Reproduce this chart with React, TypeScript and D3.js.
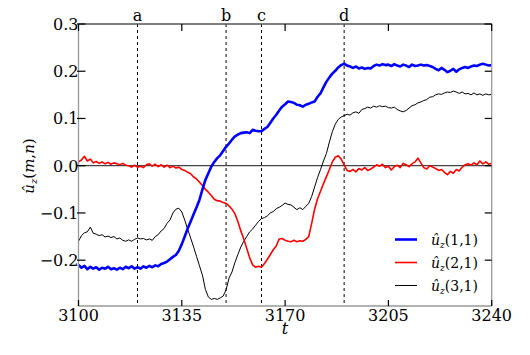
import React from "react";
import * as d3 from "d3";

const T_START = 3100;
const u11: number[] = [
  -0.210, -0.216, -0.212, -0.219, -0.214, -0.218, -0.215, -0.220, -0.216, -0.218,
  -0.214, -0.219, -0.217, -0.220, -0.216, -0.219, -0.214, -0.217, -0.213, -0.218,
  -0.215, -0.218, -0.213, -0.216, -0.212, -0.215, -0.211, -0.213, -0.208, -0.206,
  -0.203, -0.198, -0.193, -0.189, -0.180, -0.166, -0.150, -0.133, -0.118, -0.103,
  -0.088, -0.072, -0.050, -0.030, -0.016, -0.002, 0.008, 0.016, 0.022, 0.031,
  0.040, 0.047, 0.055, 0.062, 0.066, 0.069, 0.070, 0.071, 0.069, 0.076,
  0.074, 0.073, 0.073, 0.078, 0.082, 0.091, 0.100, 0.108, 0.117, 0.125,
  0.130, 0.136, 0.135, 0.133, 0.129, 0.128, 0.125, 0.129, 0.131, 0.134,
  0.136, 0.146, 0.153, 0.166, 0.178, 0.187, 0.195, 0.201, 0.208, 0.213,
  0.216, 0.212, 0.210, 0.207, 0.210, 0.206, 0.208, 0.205, 0.207, 0.206,
  0.211, 0.214, 0.212, 0.215, 0.213, 0.214, 0.211, 0.215, 0.212, 0.210,
  0.214, 0.212, 0.209, 0.214, 0.211, 0.212, 0.214, 0.212, 0.213, 0.211,
  0.209, 0.205, 0.202, 0.207, 0.203, 0.198, 0.201, 0.205, 0.199, 0.204,
  0.207, 0.209, 0.207, 0.210, 0.212, 0.211, 0.214, 0.216, 0.214, 0.212,
  0.213,
];
const u21: number[] = [
  0.008, 0.012, 0.020, 0.010, 0.014, 0.006, 0.009, 0.005, 0.008, 0.004,
  0.007, 0.003, 0.006, 0.004, 0.002, 0.005, 0.001, 0.000, -0.003, 0.001,
  -0.003, -0.001, -0.004, 0.002, 0.004, -0.001, 0.003, -0.002, 0.002, -0.003,
  0.001, -0.004, -0.001, -0.005, -0.003, -0.008, -0.010, -0.014, -0.017, -0.024,
  -0.028, -0.035, -0.042, -0.050, -0.056, -0.063, -0.071, -0.074, -0.075, -0.078,
  -0.080, -0.085, -0.092, -0.102, -0.118, -0.138, -0.155, -0.175, -0.195, -0.210,
  -0.215, -0.213, -0.215, -0.207, -0.198, -0.188, -0.178, -0.170, -0.155, -0.154,
  -0.158, -0.160, -0.161, -0.158, -0.161, -0.159, -0.160, -0.156, -0.150, -0.122,
  -0.092, -0.070, -0.054, -0.038, -0.023, -0.008, 0.008, 0.018, 0.021, 0.014,
  0.002, -0.010, -0.012, -0.008, -0.013, -0.006, -0.009, -0.004, -0.010, -0.007,
  -0.003, 0.002, -0.001, 0.003, -0.004, -0.001, -0.009, -0.002, 0.001, -0.004,
  0.005, 0.002, -0.002, 0.004, 0.008, 0.016, 0.006, -0.004, -0.007, 0.000,
  -0.003, -0.006, -0.010, -0.008, -0.014, -0.019, -0.012, -0.016, -0.008, -0.011,
  -0.003, 0.002, 0.004, 0.001, 0.006, 0.002, 0.010, 0.004, 0.008, 0.003,
  0.005,
];
const u31: number[] = [
  -0.160, -0.148, -0.142, -0.140, -0.130, -0.143, -0.145, -0.148, -0.146, -0.151,
  -0.149, -0.152, -0.150, -0.155, -0.153, -0.158, -0.160, -0.157, -0.160, -0.156,
  -0.153, -0.155, -0.154, -0.157, -0.155, -0.158, -0.150, -0.146, -0.138, -0.133,
  -0.122, -0.115, -0.100, -0.092, -0.090, -0.098, -0.115, -0.135, -0.153, -0.172,
  -0.192, -0.212, -0.232, -0.262, -0.278, -0.283, -0.281, -0.283, -0.280, -0.276,
  -0.263, -0.238, -0.225, -0.205, -0.188, -0.172, -0.160, -0.150, -0.140, -0.134,
  -0.126, -0.118, -0.112, -0.110, -0.106, -0.100, -0.097, -0.091, -0.088, -0.084,
  -0.079, -0.082, -0.083, -0.088, -0.093, -0.089, -0.093, -0.086, -0.080, -0.065,
  -0.045, -0.025, -0.008, 0.010, 0.026, 0.050, 0.072, 0.088, 0.098, 0.103,
  0.106, 0.109, 0.107, 0.112, 0.114, 0.111, 0.119, 0.121, 0.124, 0.122,
  0.126, 0.124, 0.127, 0.125, 0.126, 0.123, 0.122, 0.124, 0.119, 0.116,
  0.114, 0.117, 0.122, 0.127, 0.129, 0.133, 0.135, 0.138, 0.140, 0.145,
  0.146, 0.150, 0.152, 0.151, 0.154, 0.156, 0.155, 0.158, 0.156, 0.153,
  0.156, 0.152, 0.153, 0.150, 0.154, 0.150, 0.152, 0.149, 0.152, 0.150,
  0.151,
];

const xTicks = [3100, 3135, 3170, 3205, 3240];
const yTicks = [0.3, 0.2, 0.1, 0.0, -0.1, -0.2];
const yTickLabels = ["0.3", "0.2", "0.1", "0.0", "\u22120.1", "\u22120.2"];
const markerTimes = [3120, 3150, 3162, 3190];
const markerLabels = ["a", "b", "c", "d"];
const seriesNames = ["(1,1)", "(2,1)", "(3,1)"];
const seriesColors = ["#0000ff", "#ff0000", "#000000"];
const seriesWidths = [2.6, 1.6, 1.0];

export default function App() {
  const W = 530, H = 355;
  const x = d3.scaleLinear().domain([3100, 3240]).range([78.5, 491.7]);
  const y = d3.scaleLinear().domain([-0.297, 0.3]).range([306, 24]);
  const series = [u11, u21, u31];
  const line = d3
    .line<number>()
    .x((_, i) => x(T_START + i))
    .y((d) => y(d));
  const [x0, x1] = x.range();
  const [yb, yt] = y.range();
  const tickFont = "'DejaVu Serif', 'Liberation Serif', serif";
  const mathFont = "'DejaVu Serif', 'Liberation Serif', serif";
  return (
    <svg
      width={W}
      height={H}
      style={{ position: "absolute", left: 0, top: 0, background: "#fff" }}
    >
      <rect x={0} y={0} width={W} height={H} fill="#fff" />
      <line x1={x0} x2={x1} y1={y(0)} y2={y(0)} stroke="#444" strokeWidth={1.3} />
      {markerTimes.map((t, i) => (
        <g key={t}>
          <line
            x1={x(t)}
            x2={x(t)}
            y1={yt}
            y2={yb}
            stroke="#000"
            strokeWidth={1}
            strokeDasharray="3,3"
          />
          <text
            x={x(t)}
            y={21}
            textAnchor="middle"
            fontFamily={tickFont}
            fontSize={16}
            fill="#000"
          >
            {markerLabels[i]}
          </text>
        </g>
      ))}
      {[2, 1, 0].map((k) => (
        <path
          key={k}
          d={line(series[k]) || ""}
          fill="none"
          stroke={seriesColors[k]}
          strokeWidth={seriesWidths[k]}
          strokeLinejoin="round"
        />
      ))}
      <line x1={x0} x2={x0} y1={yt} y2={yb} stroke="#999" strokeWidth={1.3} />
      <line x1={x0} x2={x1} y1={yb} y2={yb} stroke="#999" strokeWidth={1.3} />
      <line x1={x1} x2={x1} y1={yt} y2={yb} stroke="#999" strokeWidth={1.3} />
      <line x1={x0} x2={x1} y1={yt} y2={yt} stroke="#555" strokeWidth={1.3} />
      {xTicks.map((t) => (
        <g key={t}>
          <line x1={x(t)} x2={x(t)} y1={yb} y2={yb - 6} stroke="#000" strokeWidth={1.2} />
          <line x1={x(t)} x2={x(t)} y1={yt} y2={yt + 7} stroke="#000" strokeWidth={1.2} />
          <text
            x={x(t)}
            y={321}
            textAnchor="middle"
            fontFamily={tickFont}
            fontSize={16}
            fill="#000"
          >
            {t}
          </text>
        </g>
      ))}
      {yTicks.map((v, i) => (
        <g key={v}>
          <line x1={x0 - 1.5} x2={x0 + 7} y1={y(v)} y2={y(v)} stroke="#000" strokeWidth={1.2} />
          <line x1={x1} x2={x1 - 7} y1={y(v)} y2={y(v)} stroke="#000" strokeWidth={1.2} />
          <text
            x={78.5}
            y={y(v) + 5.8}
            textAnchor="end"
            fontFamily={tickFont}
            fontSize={16}
            fill="#000"
          >
            {yTickLabels[i]}
          </text>
        </g>
      ))}
      <text
        x={285}
        y={334}
        textAnchor="middle"
        fontFamily={mathFont}
        fontStyle="italic"
        fontSize={16}
        fill="#000"
      >
        t
      </text>
      <text
        transform="translate(34,166) rotate(-90)"
        textAnchor="middle"
        fontFamily={mathFont}
        fontSize={15}
        fill="#000"
      >
        <tspan fontStyle="italic">{"\u00fb"}</tspan>
        <tspan fontStyle="italic" fontSize={10} dy={3}>
          z
        </tspan>
        <tspan dy={-3}>(</tspan>
        <tspan fontStyle="italic">m</tspan>
        <tspan>,</tspan>
        <tspan fontStyle="italic">n</tspan>
        <tspan>)</tspan>
      </text>
      {seriesNames.map((name, i) => {
        const ly = 239.5 + i * 23;
        return (
          <g key={name}>
            <line
              x1={395}
              x2={417}
              y1={ly}
              y2={ly}
              stroke={seriesColors[i]}
              strokeWidth={seriesWidths[i]}
            />
            <text x={431} y={ly + 5} fontFamily={mathFont} fontSize={14} fill="#000">
              <tspan fontStyle="italic">{"\u00fb"}</tspan>
              <tspan fontStyle="italic" fontSize={9} dy={3}>
                z
              </tspan>
              <tspan dy={-3}>{name}</tspan>
            </text>
          </g>
        );
      })}
    </svg>
  );
}
